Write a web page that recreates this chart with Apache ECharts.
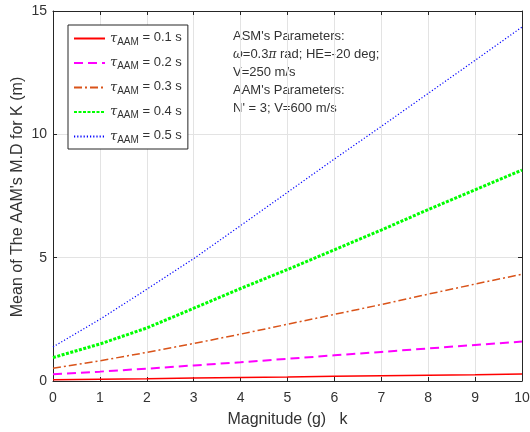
<!DOCTYPE html>
<html>
<head>
<meta charset="utf-8">
<style>
  html, body { margin: 0; padding: 0; background: #ffffff; }
  #chart { width: 530px; height: 432px; }
</style>
<script src="https://cdn.jsdelivr.net/npm/echarts@6/dist/echarts.min.js"></script>
</head>
<body>
<div id="chart"></div>
<script>
// Magnitude k (g)
const magnitude = [0, 1, 2, 3, 4, 5, 6, 7, 8, 9, 10];

// Mean miss distance (m) for each AAM time constant
const tau01 = [0.05, 0.07, 0.09, 0.12, 0.14, 0.16, 0.19, 0.21, 0.23, 0.25, 0.28];
const tau02 = [0.27, 0.38, 0.50, 0.63, 0.76, 0.90, 1.04, 1.18, 1.32, 1.46, 1.60];
const tau03 = [0.52, 0.82, 1.16, 1.52, 1.90, 2.30, 2.70, 3.10, 3.52, 3.93, 4.33];
const tau04 = [0.95, 1.50, 2.15, 2.95, 3.75, 4.52, 5.32, 6.12, 6.95, 7.75, 8.55];
const tau05 = [1.38, 2.50, 3.72, 4.96, 6.30, 7.65, 9.00, 10.32, 11.66, 13.00, 14.35];

const tauLabels = ['0.1', '0.2', '0.3', '0.4', '0.5'];

const xTicks = { min: 0, max: 10, interval: 1 };
const yTicks = { min: 0, max: 15, interval: 5 };

const xTitle = 'Magnitude (g)   k';
const yTitle = "Mean of The AAM's M.D for K (m)";

const pairs = (ys) => magnitude.map((k, i) => [k, ys[i]]);

const FONT = '"Liberation Sans", Arial, Helvetica, sans-serif';
const SERIF = '"DejaVu Serif", "Liberation Serif", serif';
const AXIS = '#262626';
const TEXT = '#333333';

const styles = [
  { color: '#ff0000', width: 1.5, type: 'solid' },
  { color: '#ff00ff', width: 2, type: [9, 5] },
  { color: '#d95319', width: 1.5, type: [8, 3, 2, 3] },
  { color: '#00ff00', width: 3, type: [3, 1.5] },
  { color: '#0000ff', width: 1.2, type: [1.2, 2] }
];

const seriesData = [tau01, tau02, tau03, tau04, tau05];
const names = tauLabels.map(t => 'tau' + t);

const series = seriesData.map((d, i) => ({
  name: names[i],
  type: 'line',
  data: pairs(d),
  symbol: 'none',
  silent: true,
  animation: false,
  lineStyle: { color: styles[i].color, width: styles[i].width, type: styles[i].type, cap: 'butt' },
  itemStyle: { color: styles[i].color }
}));

const chart = echarts.init(document.getElementById('chart'));

const paramLines = [
  "ASM's Parameters:",
  '{g|ω}=0.3{g|π} rad; HE=-20 deg;',
  'V=250 m/s',
  "AAM's Parameters:",
  "N' = 3; V=600 m/s"
];
const paramY = [38, 56, 74, 92, 110];

const tickAxis = (extra) => Object.assign({
  type: 'value',
  axisLine: { show: true, onZero: false, lineStyle: { color: AXIS, width: 1 } },
  axisTick: { show: true, inside: true, length: 4, lineStyle: { color: AXIS } },
  axisLabel: { show: false },
  splitLine: { show: false }
}, extra);

const paramTexts = paramLines.map((txt, i) => ({
  type: 'text',
  left: 233,
  top: paramY[i] - 8,
  silent: true,
  style: {
    text: txt,
    fontFamily: FONT, fontSize: 13, fill: TEXT,
    rich: {
      g: { fontFamily: SERIF, fontStyle: 'italic', fontSize: 12, fill: TEXT }
    }
  }
}));

// vertical axis title, centred on the plot's height
const yTitleText = {
  type: 'text',
  x: 18, y: 197,
  rotation: Math.PI / 2,
  silent: true,
  style: {
    text: yTitle,
    fontFamily: FONT, fontSize: 16, fill: TEXT,
    align: 'center', verticalAlign: 'middle'
  }
};

chart.setOption({
  animation: false,
  backgroundColor: '#ffffff',
  grid: { left: 53, right: 8, top: 11, bottom: 51, show: false, containLabel: false, outerBoundsMode: 'none' },
  xAxis: [
    tickAxis({
      min: xTicks.min, max: xTicks.max, interval: xTicks.interval,
      name: xTitle, nameLocation: 'middle', nameGap: 31,
      nameTextStyle: { fontFamily: FONT, fontSize: 16, color: TEXT },
      axisLabel: { show: true, fontFamily: FONT, fontSize: 14, color: TEXT, margin: 10 },
      splitLine: { show: true, lineStyle: { color: '#e3e3e3', width: 1 } }
    }),
    tickAxis({ position: 'top', min: xTicks.min, max: xTicks.max, interval: xTicks.interval })
  ],
  yAxis: [
    tickAxis({
      min: yTicks.min, max: yTicks.max, interval: yTicks.interval,
      axisLabel: { show: true, fontFamily: FONT, fontSize: 14, color: TEXT, margin: 6 },
      splitLine: { show: true, lineStyle: { color: '#e3e3e3', width: 1 } }
    }),
    tickAxis({ position: 'right', min: yTicks.min, max: yTicks.max, interval: yTicks.interval })
  ],
  legend: {
    orient: 'vertical',
    left: 68, top: 25,
    padding: [6, 6, 4, 5],
    itemWidth: 31, itemHeight: 14, itemGap: 8.5,
    backgroundColor: '#ffffff',
    borderColor: AXIS, borderWidth: 1, borderRadius: 0,
    selectedMode: false,
    data: names,
    itemStyle: { opacity: 0 },
    formatter: (n) => '{t|τ}{s|AAM}{n| = ' + n.slice(3) + ' s}',
    textStyle: {
      fontFamily: FONT, color: TEXT,
      rich: {
        t: { fontFamily: SERIF, fontStyle: 'italic', fontSize: 13, color: TEXT },
        s: { fontFamily: FONT, fontSize: 10, color: TEXT, padding: [7, 0, 0, 0] },
        n: { fontFamily: FONT, fontSize: 13, color: TEXT, padding: [0, 0, 2, 0] }
      }
    }
  },
  graphic: paramTexts.concat([yTitleText]),
  series: series
});
</script>
</body>
</html>
